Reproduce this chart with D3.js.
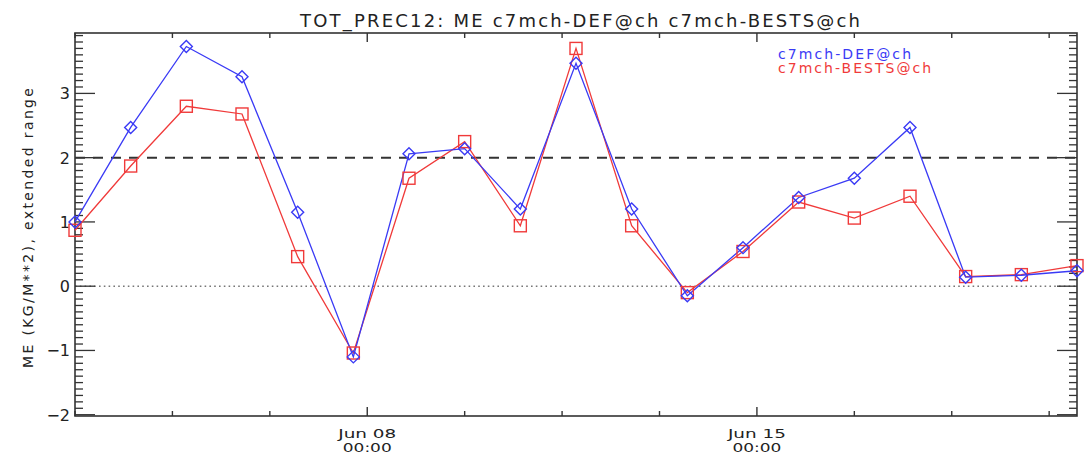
<!DOCTYPE html>
<html><head><meta charset="utf-8">
<script src="https://cdn.jsdelivr.net/npm/d3@7"></script>
<style>body{margin:0;background:#fff}svg{display:block}text{font-family:"DejaVu Sans",sans-serif;fill:#222}</style>
</head><body><svg id="c" width="1086" height="456"></svg>
<script>
const startTime = "2014-06-02T18:00:00";
const days = d3.range(19);
const defValues = [1.0, 2.47, 3.73, 3.26, 1.15, -1.1, 2.06, 2.14, 1.2, 3.47, 1.2, -0.15, 0.6, 1.38, 1.68, 2.47, 0.14, 0.17, 0.24];
const bestsValues = [0.87, 1.87, 2.8, 2.68, 0.46, -1.04, 1.68, 2.25, 0.94, 3.7, 0.94, -0.1, 0.54, 1.31, 1.06, 1.4, 0.15, 0.18, 0.32];
const yTicks = [-2, -1, 0, 1, 2, 3];
const xLabelTicks = ["2014-06-08T00:00:00", "2014-06-15T00:00:00"];
const xLabels = [["Jun 08", "00:00"], ["Jun 15", "00:00"]];
const seriesNames = ["c7mch-DEF@ch", "c7mch-BESTS@ch"];
const titleText = "TOT_PREC12: ME c7mch-DEF@ch c7mch-BESTS@ch";
const yTitle = "ME (KG/M**2), extended range";

const svg = d3.select("#c");
const L = 75, R = 1077, T = 33, B = 416;
const t0 = new Date(startTime);
const dayMs = 864e5;
const x = d3.scaleTime().domain([t0, new Date(+t0 + 18 * dayMs)]).range([L, R]);
const y = d3.scaleLinear().domain([-2.02, 3.94]).range([B, T]);
const dates = days.map(d => new Date(+t0 + d * dayMs));

// reference lines
svg.append("line").attr("x1", L).attr("x2", R).attr("y1", y(2)).attr("y2", y(2))
  .attr("stroke", "#333").attr("stroke-width", 2).attr("stroke-dasharray", "10,8");
svg.append("line").attr("x1", L).attr("x2", R).attr("y1", y(0)).attr("y2", y(0))
  .attr("stroke", "#777").attr("stroke-width", 1.6).attr("stroke-dasharray", "1.6,3.2");

// frame
svg.append("rect").attr("x", L).attr("y", T).attr("width", R - L).attr("height", B - T)
  .attr("fill", "none").attr("stroke", "#333").attr("stroke-width", 1.6);

// y ticks (left and right)
const minorY = d3.range(-20, 40).map(i => i / 10).filter(v => v >= -2 && v <= 3.94);
minorY.forEach(v => {
  const major = Math.abs(v - Math.round(v)) < 1e-6;
  const len = major ? 20 : 8;
  [[L, L + len], [R, R - len]].forEach(([a, b]) => {
    svg.append("line").attr("x1", a).attr("x2", b).attr("y1", y(v)).attr("y2", y(v))
      .attr("stroke", "#333").attr("stroke-width", 1.3);
  });
});
yTicks.forEach(v => {
  const neg = v < 0;
  svg.append("text").attr("x", 70).attr("y", y(v) + 6).attr("text-anchor", "end")
    .attr("font-size", 16).text(neg ? "\u2212" + Math.abs(v) : v);
});

// x ticks every 42h
const stepMs = 42 * 3600e3;
const xTickDates = d3.range(0, 11).map(i => new Date(+t0 + i * stepMs)).filter(d => x(d) <= R);
const majorSet = new Set(xLabelTicks.map(s => +new Date(s)));
xTickDates.forEach(d => {
  const major = majorSet.has(+d);
  const len = major ? 9 : 5;
  const xx = x(d);
  svg.append("line").attr("x1", xx).attr("x2", xx).attr("y1", B).attr("y2", B - len).attr("stroke", "#333").attr("stroke-width", 1.4);
  svg.append("line").attr("x1", xx).attr("x2", xx).attr("y1", T).attr("y2", T + len).attr("stroke", "#333").attr("stroke-width", 1.4);
});
xLabelTicks.forEach((s, i) => {
  const xx = x(new Date(s));
  svg.append("text").attr("x", xx).attr("y", 438).attr("text-anchor", "middle").attr("font-size", 13)
    .attr("textLength", 58).attr("lengthAdjust", "spacingAndGlyphs").text(xLabels[i][0]);
  svg.append("text").attr("x", xx).attr("y", 452).attr("text-anchor", "middle").attr("font-size", 13)
    .attr("textLength", 49).attr("lengthAdjust", "spacingAndGlyphs").text(xLabels[i][1]);
});

// title
svg.append("text").attr("x", 580).attr("y", 27).attr("text-anchor", "middle").attr("font-size", 18)
  .attr("textLength", 560).attr("lengthAdjust", "spacing").text(titleText);
// y title
svg.append("text").attr("transform", "translate(33,228) rotate(-90)").attr("text-anchor", "middle")
  .attr("font-size", 14).attr("textLength", 280).attr("lengthAdjust", "spacing").text(yTitle);

// series
const line = d3.line().x((d, i) => x(dates[i])).y(d => y(d));
const blue = "#3a3af5", red = "#f03a3a";
svg.append("path").attr("d", line(bestsValues)).attr("fill", "none").attr("stroke", red).attr("stroke-width", 1.3);
svg.append("path").attr("d", line(defValues)).attr("fill", "none").attr("stroke", blue).attr("stroke-width", 1.3);
svg.selectAll(".sq").data(bestsValues).join("rect")
  .attr("x", (d, i) => x(dates[i]) - 6).attr("y", d => y(d) - 6).attr("width", 12).attr("height", 12)
  .attr("fill", "none").attr("stroke", red).attr("stroke-width", 1.4);
svg.selectAll(".dm").data(defValues).join("path")
  .attr("d", (d, i) => { const cx = x(dates[i]), cy = y(d), r = 6; return `M${cx},${cy - r}L${cx + r},${cy}L${cx},${cy + r}L${cx - r},${cy}Z`; })
  .attr("fill", "none").attr("stroke", blue).attr("stroke-width", 1.4);

// legend
svg.append("text").attr("x", 778).attr("y", 59).attr("font-size", 14).style("fill", blue)
  .attr("textLength", 133).attr("lengthAdjust", "spacing").text(seriesNames[0]);
svg.append("text").attr("x", 778).attr("y", 73).attr("font-size", 14).style("fill", red)
  .attr("textLength", 153).attr("lengthAdjust", "spacing").text(seriesNames[1]);
</script></body></html>
